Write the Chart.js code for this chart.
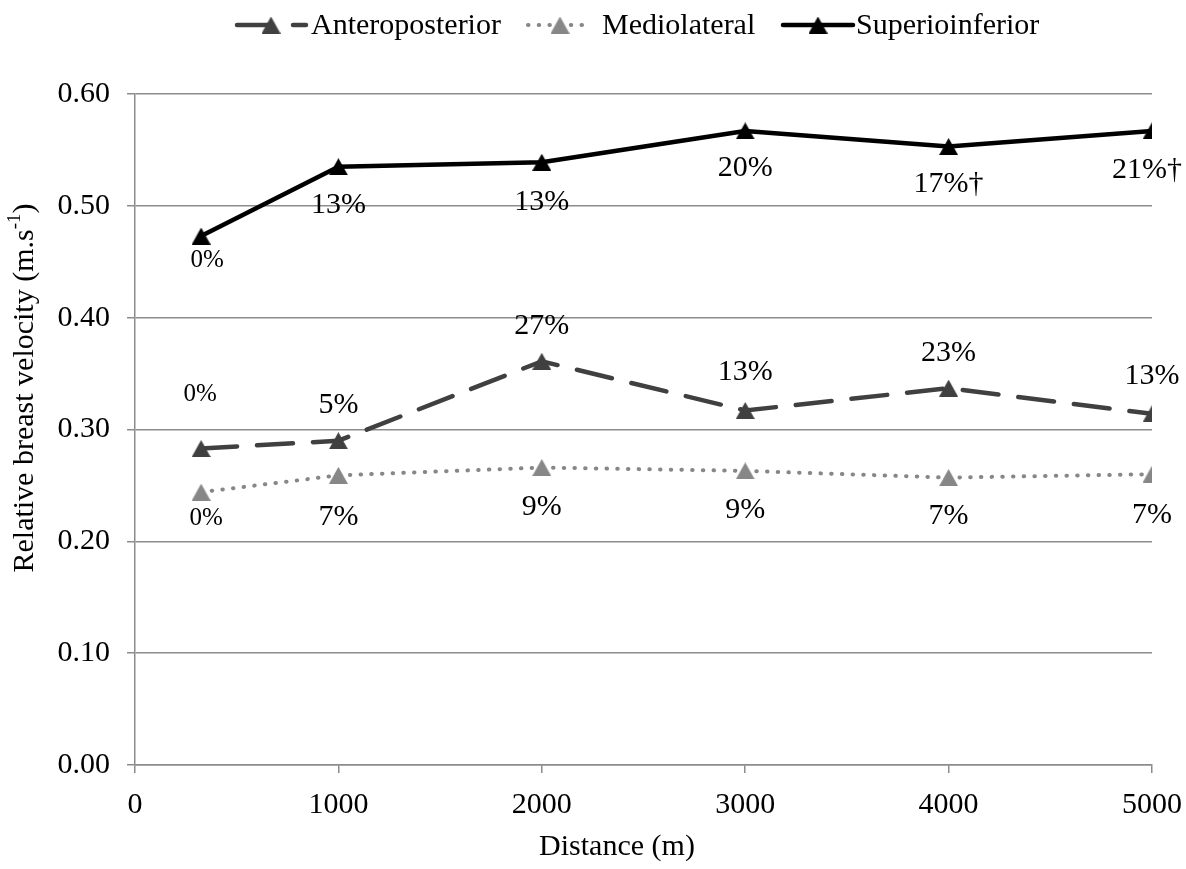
<!DOCTYPE html>
<html>
<head>
<meta charset="utf-8">
<script src="https://cdn.jsdelivr.net/npm/chart.js@4/dist/chart.umd.min.js"></script>
<style>
  html, body { margin: 0; padding: 0; background: #fff; }
  #wrap { width: 1186px; height: 869px; position: relative; }
</style>
</head>
<body>
<div id="wrap"><canvas id="c" width="1186" height="869"></canvas></div>
<script>
// ---- data ----
const distance = [325, 1000, 2000, 3000, 4000, 5000];
const anteroposterior = [0.283, 0.290, 0.361, 0.317, 0.337, 0.314];
const mediolateral    = [0.244, 0.259, 0.266, 0.263, 0.257, 0.260];
const superioinferior = [0.473, 0.535, 0.539, 0.567, 0.553, 0.567];
const apLabels = ['0%', '5%', '27%', '13%', '23%', '13%'];
const mlLabels = ['0%', '7%', '9%', '9%', '7%', '7%'];
const siLabels = ['0%', '13%', '13%', '20%', '17%\u2020', '21%\u2020'];
const seriesNames = ['Anteroposterior', 'Mediolateral', 'Superioinferior'];
const yTicks = [0, 0.1, 0.2, 0.3, 0.4, 0.5, 0.6];
const xTicks = [0, 1000, 2000, 3000, 4000, 5000];

const FONT = '"Liberation Serif", "Times New Roman", serif';
const AP_COLOR = '#404040', ML_COLOR = '#878787', SI_COLOR = '#000000';
const GRID = '#8c8c8c';

function triangle(color, w, h) {
  const c = document.createElement('canvas');
  c.width = w; c.height = h;
  const g = c.getContext('2d');
  g.fillStyle = color;
  g.beginPath();
  g.moveTo(w / 2, 0); g.lineTo(w, h); g.lineTo(0, h); g.closePath();
  g.fill();
  return c;
}
const apTri = triangle(AP_COLOR, 19, 17);
const mlTri = triangle(ML_COLOR, 19, 17);
const siTri = triangle(SI_COLOR, 19, 17);

const toXY = (xs, ys) => xs.map((x, i) => ({ x: x, y: ys[i] }));

// label offsets (pixels relative to point): style only
const labelStyle = [
  { labels: apLabels, dy: [-54, -36, -35, -38, -35, -38], dx: [-1, 0, 0, 0, 0, 0] },
  { labels: mlLabels, dy: [26, 42, 40, 39, 39, 41], dx: [5, 0, 0, 0, 0, 0] },
  { labels: siLabels, dy: [24, 38, 40, 37, 38, 39], dx: [6, 0, 0, 0, 0, -5] }
];

const labelPlugin = {
  id: 'pointLabels',
  afterDatasetsDraw(chart) {
    const ctx = chart.ctx;
    ctx.save();
    ctx.fillStyle = '#000';
    ctx.textAlign = 'center';
    ctx.textBaseline = 'middle';
    labelStyle.forEach((ls, di) => {
      const meta = chart.getDatasetMeta(di);
      meta.data.forEach((pt, i) => {
        const txt = ls.labels[i];
        ctx.font = (txt === '0%' ? '25px ' : '30px ') + FONT;
        ctx.fillText(txt, pt.x + ls.dx[i], pt.y + ls.dy[i]);
      });
    });
    ctx.restore();
  }
};

const legendItems = [
  { x0: 237, x1: 306, tx: 311, tri: apTri, color: AP_COLOR, dash: [34, 22], width: 4.5, triX: 271 },
  { x0: 528, x1: 590, tx: 602, tri: mlTri, color: ML_COLOR, dash: [0.5, 10.2], width: 4, triX: 560 },
  { x0: 783, x1: 853, tx: 856, tri: siTri, color: SI_COLOR, dash: [], width: 4.5, triX: 818 }
];

const decorPlugin = {
  id: 'decor',
  afterDraw(chart) {
    const ctx = chart.ctx;
    ctx.save();
    // legend
    const ly = 25;
    legendItems.forEach((it, i) => {
      ctx.strokeStyle = it.color;
      ctx.lineWidth = it.width;
      ctx.lineCap = 'round';
      ctx.setLineDash(it.dash);
      ctx.beginPath();
      ctx.moveTo(it.x0, ly); ctx.lineTo(it.x1, ly);
      ctx.stroke();
      ctx.setLineDash([]);
      ctx.drawImage(it.tri, it.triX - it.tri.width / 2, ly - it.tri.height / 2);
      ctx.fillStyle = '#000';
      ctx.font = '30px ' + FONT;
      ctx.textAlign = 'left';
      ctx.textBaseline = 'middle';
      ctx.fillText(seriesNames[i], it.tx, ly + 1);
    });
    // y title with superscript
    ctx.translate(25, 388);
    ctx.rotate(-Math.PI / 2);
    ctx.fillStyle = '#000';
    ctx.textBaseline = 'middle';
    ctx.textAlign = 'left';
    const main = 'Relative breast velocity (m.s';
    ctx.font = '30px ' + FONT;
    const w1 = ctx.measureText(main).width;
    ctx.font = '19px ' + FONT;
    const w2 = ctx.measureText('-1').width;
    ctx.font = '30px ' + FONT;
    const w3 = ctx.measureText(')').width;
    const total = w1 + w2 + w3;
    let x = -total / 2;
    ctx.fillText(main, x, 0); x += w1;
    ctx.font = '19px ' + FONT;
    ctx.fillText('-1', x, -10); x += w2;
    ctx.font = '30px ' + FONT;
    ctx.fillText(')', x, 0);
    ctx.restore();
    // x title
    ctx.save();
    ctx.fillStyle = '#000';
    ctx.font = '30px ' + FONT;
    ctx.textAlign = 'center';
    ctx.textBaseline = 'middle';
    ctx.fillText('Distance (m)', 617, 847);
    ctx.restore();
  }
};

new Chart(document.getElementById('c'), {
  type: 'line',
  data: {
    datasets: [
      {
        label: seriesNames[0], data: toXY(distance, anteroposterior),
        borderColor: AP_COLOR, borderWidth: 4.5, borderDash: [36, 20], borderCapStyle: 'round',
        pointStyle: apTri, pointRadius: 9, pointHoverRadius: 9, tension: 0
      },
      {
        label: seriesNames[1], data: toXY(distance, mediolateral),
        borderColor: ML_COLOR, borderWidth: 4, borderDash: [0.5, 10.2], borderCapStyle: 'round',
        pointStyle: mlTri, pointRadius: 9, pointHoverRadius: 9, tension: 0
      },
      {
        label: seriesNames[2], data: toXY(distance, superioinferior),
        borderColor: SI_COLOR, borderWidth: 4.5, borderCapStyle: 'round', borderJoinStyle: 'round',
        pointStyle: siTri, pointRadius: 9, pointHoverRadius: 9, tension: 0
      }
    ]
  },
  options: {
    responsive: false,
    animation: false,
    events: [],
    layout: { padding: { top: 94, right: 34, left: 0, bottom: 0 } },
    plugins: { legend: { display: false }, tooltip: { enabled: false }, title: { display: false } },
    scales: {
      x: {
        type: 'linear', min: 0, max: 5000,
        afterBuildTicks(scale) { scale.ticks = xTicks.map(v => ({ value: v })); },
        afterFit(scale) { scale.height = 104; scale.paddingRight = 0; scale.paddingLeft = 0; },
        grid: { drawOnChartArea: false, drawTicks: true, tickLength: 8, color: GRID, lineWidth: 1.5 },
        border: { color: GRID, width: 1.5 },
        ticks: { font: { family: FONT, size: 30 }, color: '#000', padding: 14, maxRotation: 0,
                 callback: v => String(v) }
      },
      y: {
        type: 'linear', min: 0, max: 0.6,
        afterBuildTicks(scale) { scale.ticks = yTicks.map(v => ({ value: v })); },
        afterFit(scale) { scale.width = 135; },
        grid: { drawOnChartArea: true, drawTicks: true, tickLength: 8, color: GRID, lineWidth: 1.5 },
        border: { color: GRID, width: 1.5 },
        ticks: { font: { family: FONT, size: 30 }, color: '#000', padding: 17,
                 callback: v => Number(v).toFixed(2) }
      }
    }
  },
  plugins: [labelPlugin, decorPlugin]
});
</script>
</body>
</html>
